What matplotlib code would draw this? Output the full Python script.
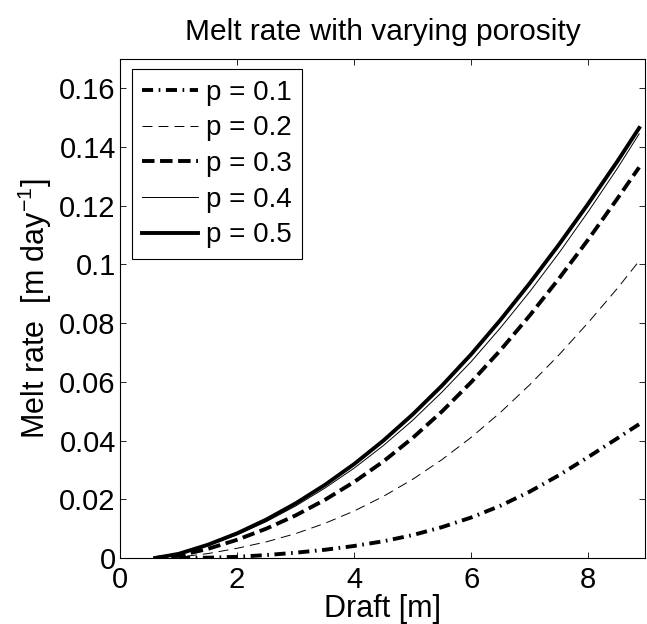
import matplotlib
matplotlib.use("Agg")
import matplotlib.pyplot as plt

plt.rcParams['font.family'] = ['Liberation Sans', 'DejaVu Sans']
plt.rcParams['mathtext.fontset'] = 'custom'
plt.rcParams['mathtext.rm'] = 'Liberation Sans'
plt.rcParams['mathtext.it'] = 'Liberation Sans:italic'
plt.rcParams['mathtext.bf'] = 'Liberation Sans:bold'

draft = [0.6, 1.0, 1.5, 2.0, 2.5, 3.0, 3.5, 4.0, 4.5, 5.0, 5.5, 6.0,
         6.5, 7.0, 7.5, 8.0, 8.5, 8.87]
melt_p01 = [0.0, 0.0, 0.0001, 0.0004, 0.0010, 0.0018, 0.0028, 0.0041, 0.0057,
            0.0078, 0.0105, 0.0138, 0.0178, 0.0226, 0.0282, 0.0344, 0.0408, 0.0456]
melt_p02 = [0.0, 0.0003, 0.0015, 0.0033, 0.0055, 0.0083, 0.0118, 0.0160, 0.0210,
            0.0268, 0.0335, 0.0411, 0.0496, 0.0590, 0.0692, 0.0802, 0.0919, 0.1012]
melt_p03 = [0.0, 0.0008, 0.0031, 0.0062, 0.0100, 0.0145, 0.0198, 0.0259, 0.0329,
            0.0409, 0.0499, 0.0599, 0.0708, 0.0826, 0.0952, 0.1085, 0.1225, 0.1331]
melt_p04 = [0.0, 0.0013, 0.0042, 0.0079, 0.0124, 0.0177, 0.0238, 0.0306, 0.0383,
            0.0469, 0.0565, 0.0669, 0.0784, 0.0907, 0.1039, 0.1180, 0.1328, 0.1445]
melt_p05 = [0.0, 0.0014, 0.0045, 0.0084, 0.0131, 0.0186, 0.0249, 0.0320, 0.0400,
            0.0489, 0.0587, 0.0694, 0.0811, 0.0936, 0.1068, 0.1207, 0.1352, 0.1465]
labels = ['p = 0.1', 'p = 0.2', 'p = 0.3', 'p = 0.4', 'p = 0.5']
x_ticks = [0, 2, 4, 6, 8]
y_ticks = [0, 0.02, 0.04, 0.06, 0.08, 0.1, 0.12, 0.14, 0.16]
y_ticklabels = ['0', '0.02', '0.04', '0.06', '0.08', '0.1', '0.12', '0.14', '0.16']

fig = plt.figure(figsize=(6.47, 6.24), dpi=100)
ax = fig.add_axes([120 / 647, 66 / 624, 525 / 647, 499 / 624])

thick = 2.8
thin = 0.7
ax.plot(draft, melt_p01, color='k', lw=thick,
        linestyle=(0, (8 / thick, 4 / thick, 1.2 / thick, 4 / thick)), label=labels[0])
ax.plot(draft, melt_p02, color='k', lw=thin,
        linestyle=(0, (7.2 / thin, 4.3 / thin)), label=labels[1])
ax.plot(draft, melt_p03, color='k', lw=thick,
        linestyle=(0, (9 / thick, 4 / thick)), label=labels[2])
ax.plot(draft, melt_p04, color='k', lw=thin, linestyle='-', label=labels[3])
ax.plot(draft, melt_p05, color='k', lw=thick, linestyle='-', label=labels[4])

ax.set_xlim(0, 8.97)
ax.set_ylim(0, 0.17)
ax.set_xticks(x_ticks)
ax.set_yticks(y_ticks)
ax.set_yticklabels(y_ticklabels)
ax.tick_params(direction='in', length=4, width=0.6, top=True, right=True,
               labelsize=21)
ax.tick_params(axis='y', pad=3)
ax.tick_params(axis='x', pad=6)
for s in ax.spines.values():
    s.set_linewidth(0.8)

ax.set_title('Melt rate with varying porosity', fontsize=21.5, pad=14)
ax.set_xlabel('Draft [m]', fontsize=22, labelpad=0)
ax.set_ylabel('Melt rate  [m day$^{-1}$]', fontsize=22, labelpad=4)

leg = ax.legend(loc='upper left', bbox_to_anchor=(0.022, 0.98), fontsize=20,
                frameon=True, fancybox=False, edgecolor='k', framealpha=1,
                handlelength=2.0, handletextpad=0.3, labelspacing=0.35,
                borderpad=0.38, borderaxespad=0)
leg.get_frame().set_linewidth(0.8)

fig.savefig('out.png', dpi=100)
